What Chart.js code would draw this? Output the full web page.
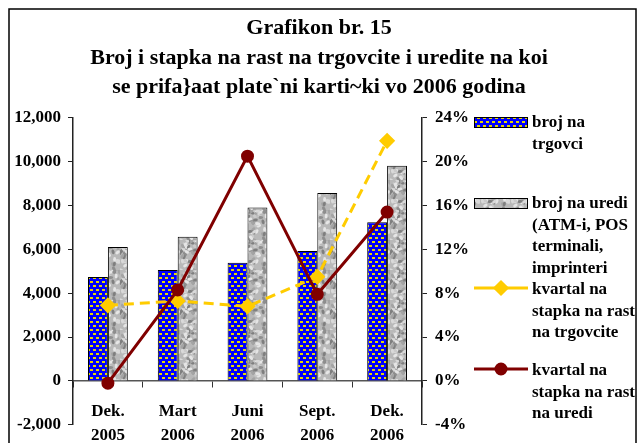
<!DOCTYPE html>
<html>
<head>
<meta charset="utf-8">
<script src="https://cdn.jsdelivr.net/npm/chart.js@4.4.1/dist/chart.umd.min.js"></script>
<style>
  html, body { margin: 0; padding: 0; background: #fff; }
  canvas { display: block; }
</style>
</head>
<body>
<canvas id="grafikon" width="638" height="443"></canvas>
<script>
// ====== PODATOCI ======
const categories = [['Dek.', '2005'], ['Mart', '2006'], ['Juni', '2006'], ['Sept.', '2006'], ['Dek.', '2006']];
const brojTrgovci = [4740, 5060, 5390, 5920, 7230];
const brojUredi = [6110, 6580, 7910, 8570, 9810];
const rastTrgovci = [6.9, 7.3, 6.8, 9.5, 21.9];   // %
const rastUredi = [-0.2, 8.3, 20.5, 7.9, 15.4];    // %

const leftTicks = { min: -2000, max: 12000, step: 2000 };
const rightTicks = { min: -4, max: 24, step: 4 };

const titleLines = [
    'Grafikon br. 15',
    'Broj i stapka na rast na trgovcite i uredite na koi',
    'se prifa}aat plate`ni karti~ki vo 2006 godina'
];
const legendTrgovci = ['broj na', 'trgovci'];
const legendUredi = ['broj na uredi', '(ATM-i, POS', 'terminali,', 'imprinteri'];
const legendRastTrgovci = ['kvartal na', 'stapka na rast', 'na trgovcite'];
const legendRastUredi = ['kvartal na', 'stapka na rast', 'na uredi'];

const FONT = 'Liberation Serif, Times New Roman, serif';

// ====== TEKSTURI ======
function bluePattern() {
    const c = document.createElement('canvas');
    c.width = 6; c.height = 8;
    const g = c.getContext('2d');
    g.fillStyle = '#0000ff';
    g.fillRect(0, 0, 6, 8);
    g.fillStyle = '#e6d800';
    g.fillRect(0, 1, 3, 2);
    g.fillRect(3, 5, 3, 2);
    return g.createPattern(c, 'repeat');
}

function greyPattern() {
    const size = 30;
    const c = document.createElement('canvas');
    c.width = size; c.height = size;
    const g = c.getContext('2d');
    g.fillStyle = '#b9b9b9';
    g.fillRect(0, 0, size, size);
    const frac = v => v - Math.floor(v);
    const shades = ['#8e8e8e', '#d9d9d9', '#7f7f7f', '#a4a4a4', '#e6e6e6', '#cacaca'];
    for (let i = 1; i <= 70; i++) {
        const px = frac(Math.sin(i * 12.9898) * 43758.5453) * size;
        const py = frac(Math.sin(i * 78.233) * 24634.6345) * size;
        const s = Math.floor(frac(Math.sin(i * 3.71) * 9631.17) * shades.length);
        g.fillStyle = shades[s];
        g.beginPath();
        g.ellipse(px, py, 2.4, 1.5, i, 0, Math.PI * 2);
        g.fill();
    }
    return g.createPattern(c, 'repeat');
}

// ====== PLUGINI ======
const ramka = {
    id: 'ramka',
    beforeDraw(chart) {
        const ctx = chart.ctx;
        ctx.save();
        ctx.fillStyle = '#fff';
        ctx.fillRect(0, 0, chart.width, chart.height);
        ctx.strokeStyle = '#000';
        ctx.lineWidth = 1.5;
        ctx.strokeRect(9, 9, 627, 450);
        ctx.restore();
    }
};

const sideLegend = {
    id: 'sideLegend',
    afterDraw(chart, args, opts) {
        const ctx = chart.ctx;
        ctx.save();
        ctx.font = opts.font;
        ctx.textBaseline = 'middle';
        opts.items.forEach(item => {
            const ds = chart.data.datasets[item.dataset];
            const x0 = opts.x;
            const w = opts.symbolWidth;
            const y = item.y;
            if (ds.type === 'bar') {
                ctx.fillStyle = ds.backgroundColor;
                ctx.fillRect(x0, y - 5, w, 10);
                ctx.strokeStyle = ds.borderColor;
                ctx.lineWidth = 1;
                ctx.strokeRect(x0 + 0.5, y - 4.5, w - 1, 10);
            } else {
                ctx.strokeStyle = ds.borderColor;
                ctx.lineWidth = ds.borderWidth;
                ctx.beginPath();
                ctx.moveTo(x0, y);
                ctx.lineTo(x0 + w, y);
                ctx.stroke();
                Chart.helpers.drawPoint(ctx, {
                    pointStyle: ds.pointStyle,
                    radius: ds.pointRadius,
                    borderWidth: 1
                }, x0 + w / 2, y);
                ctx.fillStyle = ds.pointBackgroundColor;
                ctx.fill();
            }
            ctx.fillStyle = '#000';
            item.lines.forEach((t, i) => {
                ctx.fillText(t, opts.textX, item.textY + i * opts.lineHeight);
            });
        });
        ctx.restore();
    }
};

// ====== GRAFIK ======
const ctx = document.getElementById('grafikon').getContext('2d');
const tickFont = { family: FONT, size: 17, weight: 'bold' };

new Chart(ctx, {
    data: {
        labels: categories,
        datasets: [
            {
                type: 'bar',
                label: legendTrgovci.join(' '),
                data: brojTrgovci,
                yAxisID: 'y',
                backgroundColor: bluePattern(),
                borderColor: '#000',
                borderWidth: 1,
                categoryPercentage: 0.57,
                barPercentage: 1.0,
                order: 3
            },
            {
                type: 'bar',
                label: legendUredi.join(' '),
                data: brojUredi,
                yAxisID: 'y',
                backgroundColor: greyPattern(),
                borderColor: '#000',
                borderWidth: 1,
                categoryPercentage: 0.57,
                barPercentage: 1.0,
                order: 3
            },
            {
                type: 'line',
                label: legendRastTrgovci.join(' '),
                data: rastTrgovci,
                yAxisID: 'y1',
                borderColor: '#ffcc00',
                borderWidth: 3,
                borderDash: [10, 6],
                pointStyle: 'rectRot',
                pointRadius: 6,
                pointBackgroundColor: '#ffcc00',
                pointBorderColor: '#ffcc00',
                tension: 0,
                order: 2
            },
            {
                type: 'line',
                label: legendRastUredi.join(' '),
                data: rastUredi,
                yAxisID: 'y1',
                borderColor: '#800000',
                borderWidth: 3,
                pointStyle: 'circle',
                pointRadius: 5,
                pointBackgroundColor: '#800000',
                pointBorderColor: '#800000',
                tension: 0,
                order: 1
            }
        ]
    },
    options: {
        responsive: false,
        devicePixelRatio: 1,
        animation: false,
        layout: { padding: { top: 0, right: 0, bottom: 16, left: 0 } },
        scales: {
            x: {
                type: 'category',
                position: { y: 0 },
                offset: true,
                grid: { offset: true, drawOnChartArea: false, drawTicks: true, tickLength: 6, color: '#333' },
                border: { display: true, color: '#555', width: 1.5 },
                ticks: { font: { ...tickFont, lineHeight: 1.38 }, color: '#000', padding: 13, maxRotation: 0, autoSkip: false }
            },
            y: {
                position: 'left',
                min: leftTicks.min,
                max: leftTicks.max,
                grid: { drawOnChartArea: false, tickLength: 5, color: '#222' },
                border: { display: true, color: '#222', width: 1.5 },
                ticks: {
                    stepSize: leftTicks.step,
                    font: tickFont,
                    color: '#000',
                    padding: 7,
                    callback: v => v.toLocaleString('en-US')
                },
                afterFit(scale) { scale.width = 73; }
            },
            y1: {
                position: 'right',
                min: rightTicks.min,
                max: rightTicks.max,
                grid: { drawOnChartArea: false, tickLength: 5, color: '#222' },
                border: { display: true, color: '#222', width: 1.5 },
                ticks: {
                    stepSize: rightTicks.step,
                    font: tickFont,
                    color: '#000',
                    padding: 8,
                    callback: v => v + '%'
                },
                afterFit(scale) { scale.width = 216; }
            }
        },
        plugins: {
            legend: { display: false },
            tooltip: { enabled: false },
            title: {
                display: true,
                text: titleLines,
                color: '#000',
                font: { family: FONT, size: 22, weight: 'bold', lineHeight: 1.36 },
                padding: { top: 13, bottom: 15 }
            },
            sideLegend: {
                font: 'bold 17px ' + FONT,
                x: 474,
                symbolWidth: 54,
                textX: 532,
                lineHeight: 21.5,
                items: [
                    { dataset: 0, y: 122, textY: 123, lines: legendTrgovci },
                    { dataset: 1, y: 203, textY: 204, lines: legendUredi },
                    { dataset: 2, y: 288, textY: 290, lines: legendRastTrgovci },
                    { dataset: 3, y: 369, textY: 371, lines: legendRastUredi }
                ]
            }
        }
    },
    plugins: [ramka, sideLegend]
});
</script>
</body>
</html>
